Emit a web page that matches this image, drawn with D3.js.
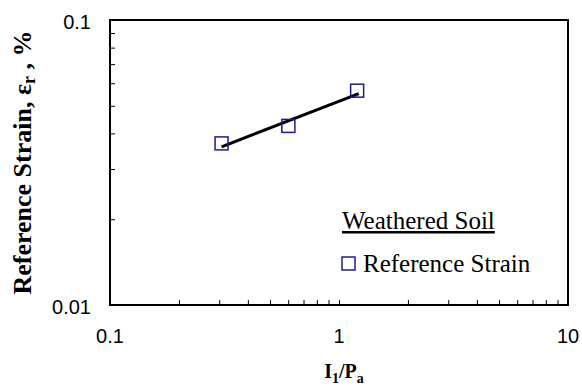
<html lang="en">
<head>
<meta charset="UTF-8">
<title>Reference Strain</title>
<style>
  body { margin: 0; background: #fff; }
  .frame { fill: none; stroke: #000; stroke-width: 2px; }
  .tick-lbl { font-family: "Liberation Sans", Arial, sans-serif; font-size: 20px; fill: #000; }
  .title { font-family: "Liberation Serif", "Times New Roman", serif; font-weight: bold; fill: #000; }
  .legend { font-family: "Liberation Serif", "Times New Roman", serif; font-size: 25px; fill: #000; }
  .axis path { display: none; }
  .axis line { stroke: #000; stroke-width: 1px; }
</style>
</head>
<body>
<svg id="chart"></svg>
<script src="https://cdnjs.cloudflare.com/ajax/libs/d3/7.8.5/d3.min.js"></script>
<script>

var width = 582,
    height = 390,
    margin = { left: 110, right: 14, top: 20, bottom: 85 };

// measured points
var ratioVals = [0.307, 0.601, 1.20];
var strainVals = [0.0369, 0.0425, 0.0565];

// fitted trend line (end points)
var trendX = [0.307, 1.22];
var trendY = [0.0359, 0.0552];

var xTickLabels = [0.1, 1, 10];
var yTickLabels = [0.01, 0.1];

var svg = d3.select("#chart")
  .attr("width", width)
  .attr("height", height);

var x = d3.scaleLog()
  .domain([0.1, 10])
  .range([margin.left, width - margin.right]);

var y = d3.scaleLog()
  .domain([0.01, 0.1])
  .range([height - margin.bottom, margin.top]);

var xMinor = [];
[0.1, 1].forEach(function(d) {
  for (var k = 2; k <= 9; k++) xMinor.push(d * k);
});
xMinor.push(1);

var yMinor = [];
for (var k = 2; k <= 9; k++) yMinor.push(0.01 * k);

// inward ticks
svg.append("g")
  .attr("class", "axis")
  .attr("transform", "translate(0," + (height - margin.bottom) + ")")
  .call(d3.axisBottom(x).tickValues(xMinor).tickSize(-5).tickFormat(""));

svg.append("g")
  .attr("class", "axis")
  .attr("transform", "translate(" + margin.left + ",0)")
  .call(d3.axisLeft(y).tickValues(yMinor).tickSize(-5).tickFormat(""));

svg.append("rect")
  .attr("class", "frame")
  .attr("x", margin.left)
  .attr("y", margin.top)
  .attr("width", width - margin.left - margin.right)
  .attr("height", height - margin.top - margin.bottom);

svg.selectAll(".xlbl")
  .data(xTickLabels)
  .enter()
  .append("text")
    .attr("class", "tick-lbl")
    .attr("x", function(d) { return x(d); })
    .attr("y", height - margin.bottom + 38)
    .attr("text-anchor", "middle")
    .text(function(d) { return d; });

svg.selectAll(".ylbl")
  .data(yTickLabels)
  .enter()
  .append("text")
    .attr("class", "tick-lbl")
    .attr("x", margin.left - 19)
    .attr("y", function(d) { return y(d) + 9; })
    .attr("text-anchor", "end")
    .text(function(d) { return d; });

// trend line
var trend = trendX.map(function(d, i) { return [d, trendY[i]]; });
svg.append("path")
  .datum(trend)
  .attr("d", d3.line().x(function(d) { return x(d[0]); }).y(function(d) { return y(d[1]); }))
  .attr("fill", "none")
  .attr("stroke", "#000")
  .attr("stroke-width", 3);

// points
var sq = 13;
svg.selectAll(".pt")
  .data(ratioVals)
  .enter()
  .append("rect")
    .attr("x", function(d) { return x(d) - sq / 2; })
    .attr("y", function(d, i) { return y(strainVals[i]) - sq / 2; })
    .attr("width", sq)
    .attr("height", sq)
    .attr("fill", "none")
    .attr("stroke", "#1c1c8e")
    .attr("stroke-width", 1.5);

// axis titles
var xt = svg.append("text")
  .attr("class", "title")
  .attr("font-size", "20px")
  .attr("x", 344)
  .attr("y", 378)
  .attr("text-anchor", "middle");
xt.append("tspan").text("I");
xt.append("tspan").attr("font-size", "14px").attr("dy", 5).text("1");
xt.append("tspan").attr("dy", -5).text("/P");
xt.append("tspan").attr("font-size", "14px").attr("dy", 5).text("a");

var yt = svg.append("text")
  .attr("class", "title")
  .attr("font-size", "26px")
  .attr("transform", "translate(31," + ((margin.top + height - margin.bottom) / 2) + ") rotate(-90)")
  .attr("text-anchor", "middle");
yt.append("tspan").text("Reference Strain,  \u03b5");
yt.append("tspan").attr("font-size", "18px").attr("dy", 4).text("r");
yt.append("tspan").attr("dy", -4).text(" , %");

// legend
svg.append("text")
  .attr("class", "legend")
  .attr("x", 342)
  .attr("y", 229)
  .attr("text-decoration", "underline")
  .text("Weathered Soil");

svg.append("rect")
  .attr("x", 342)
  .attr("y", 257)
  .attr("width", 13)
  .attr("height", 13)
  .attr("fill", "none")
  .attr("stroke", "#1c1c8e")
  .attr("stroke-width", 1.5);

svg.append("text")
  .attr("class", "legend")
  .attr("x", 363)
  .attr("y", 272)
  .text("Reference Strain");

</script>
</body>
</html>
